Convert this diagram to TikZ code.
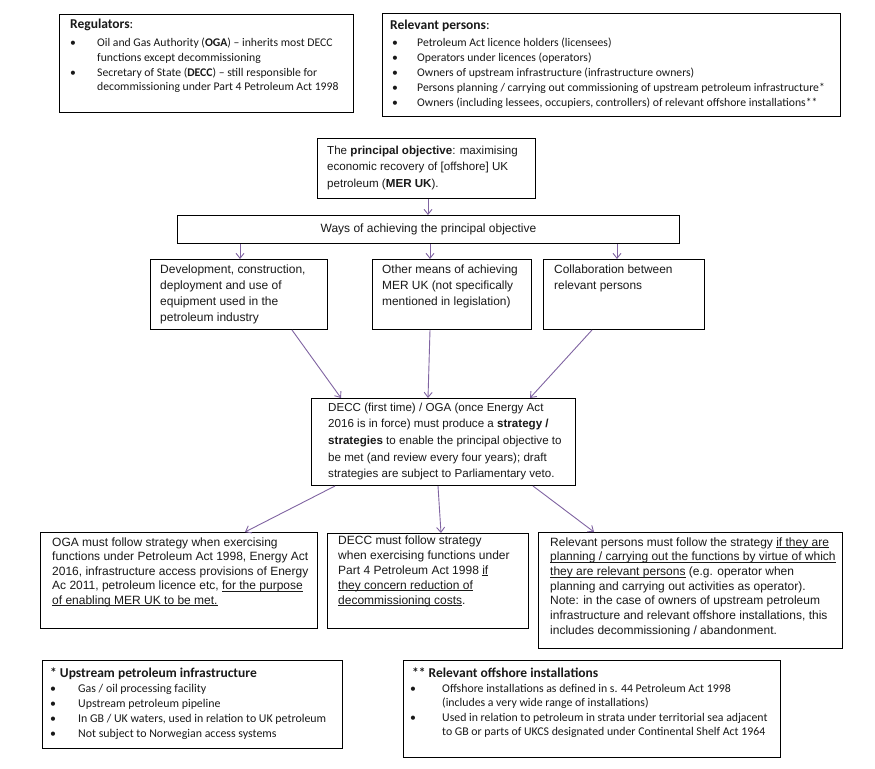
\documentclass[tikz,border=0pt]{standalone}
\usepackage{fontspec}
\setmainfont{Liberation Sans}
\newfontfamily\cali{Carlito}
\usetikzlibrary{arrows.meta}
\definecolor{arrc}{RGB}{128,100,162}
\definecolor{txtc}{RGB}{25,25,25}
\newcommand\uln[1]{\setbox0\hbox{#1}\rlap{\rule[-1.7pt]{\wd0}{0.6pt}}\box0\relax}
\tikzset{
  box/.style={draw=black, line width=1pt, inner sep=0pt, anchor=north west},
  txt/.style={inner sep=0pt, anchor=base west, text=txtc},
  head/.style={txt, font=\cali\fontsize{13.5}{16}\selectfont},
  arr/.style={draw=arrc, line width=0.9pt, -{Straight Barb[length=5pt,width=8pt]}},
}
\begin{document}
\begin{tikzpicture}[x=1pt,y=-1pt]
\path[use as bounding box, fill=white] (0,0) rectangle (875,768);

% Regulators
\node[box, minimum width=294pt, minimum height=98pt] (reg) at (59,14) {};
\node[head] (regH) at (70,29) {\textbf{Regulators}:};
\node[txt, font=\cali\fontsize{11.7}{14.6}\selectfont] (regL) at (70,47) {\begin{tabular}[t]{@{}p{27pt}@{}l@{}}
\textbullet & Oil and Gas Authority (\textbf{OGA}) – inherits most DECC\\
& functions except decommissioning\\
\textbullet & Secretary of State (\textbf{DECC}) – still responsible for\\
& decommissioning under Part 4 Petroleum Act 1998
\end{tabular}};

% Relevant persons
\node[box, minimum width=458pt, minimum height=103pt] (rel) at (382,13) {};
\node[head] (relH) at (390,30) {\textbf{Relevant persons}:};
\node[txt, font=\cali\fontsize{11.7}{15}\selectfont] (relL) at (392,47) {\begin{tabular}[t]{@{}p{25pt}@{}l@{}}
\textbullet & Petroleum Act licence holders (licensees)\\
\textbullet & Operators under licences (operators)\\
\textbullet & Owners of upstream infrastructure (infrastructure owners)\\
\textbullet & Persons planning / carrying out commissioning of upstream petroleum infrastructure*\\
\textbullet & Owners (including lessees, occupiers, controllers) of relevant offshore installations**
\end{tabular}};

% Principal objective
\node[box, minimum width=218pt, minimum height=60pt] (prin) at (317,138) {};
\node[txt, font=\fontsize{11.6}{16.5}\selectfont] (prinT) at (327,154) {\begin{tabular}[t]{@{}l@{}}
The \textbf{principal objective}: maximising\\
economic recovery of [offshore] UK\\
petroleum (\textbf{MER UK}).
\end{tabular}};

% Ways
\node[box, minimum width=502pt, minimum height=28pt, text=txtc, font=\fontsize{12}{14}\selectfont] (ways) at (177,215) {Ways of achieving the principal objective};

% Three ways
\node[box, minimum width=177pt, minimum height=70pt] (dev) at (150,259) {};
\node[txt, font=\fontsize{12}{16}\selectfont] (devT) at (160,273) {\begin{tabular}[t]{@{}l@{}}
Development, construction,\\
deployment and use of\\
equipment used in the\\
petroleum industry
\end{tabular}};
\node[box, minimum width=159pt, minimum height=70pt] (oth) at (372,259) {};
\node[txt, font=\fontsize{11.9}{16}\selectfont] (othT) at (382,273) {\begin{tabular}[t]{@{}l@{}}
Other means of achieving\\
MER UK (not specifically\\
mentioned in legislation)
\end{tabular}};
\node[box, minimum width=161pt, minimum height=70pt] (col) at (543,259) {};
\node[txt, font=\fontsize{11.9}{16}\selectfont] (colT) at (554,273) {\begin{tabular}[t]{@{}l@{}}
Collaboration between\\
relevant persons
\end{tabular}};

% Strategy
\node[box, minimum width=264pt, minimum height=87pt] (str) at (311,398) {};
\node[txt, font=\fontsize{11.6}{16.7}\selectfont] (strT) at (328,411) {\begin{tabular}[t]{@{}l@{}}
DECC (first time) / OGA (once Energy Act\\
2016 is in force) must produce a \textbf{strategy /}\\
\textbf{strategies} to enable the principal objective to\\
be met (and review every four years); draft\\
strategies are subject to Parliamentary veto.
\end{tabular}};

% Bottom row of consequences
\node[box, minimum width=277pt, minimum height=96pt] (oga) at (40,532) {};
\node[txt, font=\fontsize{12}{14.5}\selectfont] (ogaT) at (52,546) {\begin{tabular}[t]{@{}l@{}}
OGA must follow strategy when exercising\\
functions under Petroleum Act 1998, Energy Act\\
2016, infrastructure access provisions of Energy\\
Ac 2011, petroleum licence etc, \uln{for the purpose}\\
\uln{of enabling MER UK to be met.}
\end{tabular}};
\node[box, minimum width=201pt, minimum height=95pt] (dm) at (327,533) {};
\node[txt, font=\fontsize{12}{15}\selectfont] (dmT) at (338,544) {\begin{tabular}[t]{@{}l@{}}
DECC must follow strategy\\
when exercising functions under\\
Part 4 Petroleum Act 1998 \uln{if}\\
\uln{they concern reduction of}\\
\uln{decommissioning costs}.
\end{tabular}};
\node[box, minimum width=304pt, minimum height=116pt] (rp) at (538,532) {};
\node[txt, font=\fontsize{12}{14.7}\selectfont] (rpT) at (550,546) {\begin{tabular}[t]{@{}l@{}}
Relevant persons must follow the strategy \uln{if they are}\\
\uln{planning / carrying out the functions by virtue of which}\\
\uln{they are relevant persons} (e.g. operator when\\
planning and carrying out activities as operator).\\
Note: in the case of owners of upstream petroleum\\
infrastructure and relevant offshore installations, this\\
includes decommissioning / abandonment.
\end{tabular}};

% Footnote boxes
\node[box, minimum width=300pt, minimum height=88pt] (ups) at (42,660) {};
\node[head] (upsH) at (50,677) {\textbf{* Upstream petroleum infrastructure}};
\node[txt, font=\cali\fontsize{11.9}{15.3}\selectfont] (upsL) at (50,692) {\begin{tabular}[t]{@{}p{28pt}@{}l@{}}
\textbullet & Gas / oil processing facility\\
\textbullet & Upstream petroleum pipeline\\
\textbullet & In GB / UK waters, used in relation to UK petroleum\\
\textbullet & Not subject to Norwegian access systems
\end{tabular}};
\node[box, minimum width=377pt, minimum height=97pt] (off) at (403,660) {};
\node[head] (offH) at (412,677) {\textbf{** Relevant offshore installations}};
\node[txt, font=\cali\fontsize{11.8}{14.6}\selectfont] (offL) at (410,692) {\begin{tabular}[t]{@{}p{32pt}@{}l@{}}
\textbullet & Offshore installations as defined in s. 44 Petroleum Act 1998\\
& (includes a very wide range of installations)\\
\textbullet & Used in relation to petroleum in strata under territorial sea adjacent\\
& to GB or parts of UKCS designated under Continental Shelf Act 1964
\end{tabular}};

% Connectors
\draw[arr] ([xshift=111pt]prin.south west) -- ([xshift=251pt]ways.north west);
\draw[arr] ([xshift=63pt]ways.south west) -- ([xshift=90pt]dev.north west);
\draw[arr] ([xshift=253pt]ways.south west) -- ([xshift=58pt]oth.north west);
\draw[arr] ([xshift=440pt]ways.south west) -- ([xshift=74pt]col.north west);
\draw[arr] ([xshift=142pt]dev.south west) -- ([xshift=30pt]str.north west);
\draw[arr] ([xshift=58pt]oth.south west) -- ([xshift=117pt]str.north west);
\draw[arr] ([xshift=49pt]col.south west) -- ([xshift=219pt]str.north west);
\draw[arr] ([xshift=24pt]str.south west) -- ([xshift=205pt]oga.north west);
\draw[arr] ([xshift=127pt]str.south west) -- ([xshift=114pt]dm.north west);
\draw[arr] ([xshift=222pt]str.south west) -- ([xshift=56pt]rp.north west);
\end{tikzpicture}
\end{document}
